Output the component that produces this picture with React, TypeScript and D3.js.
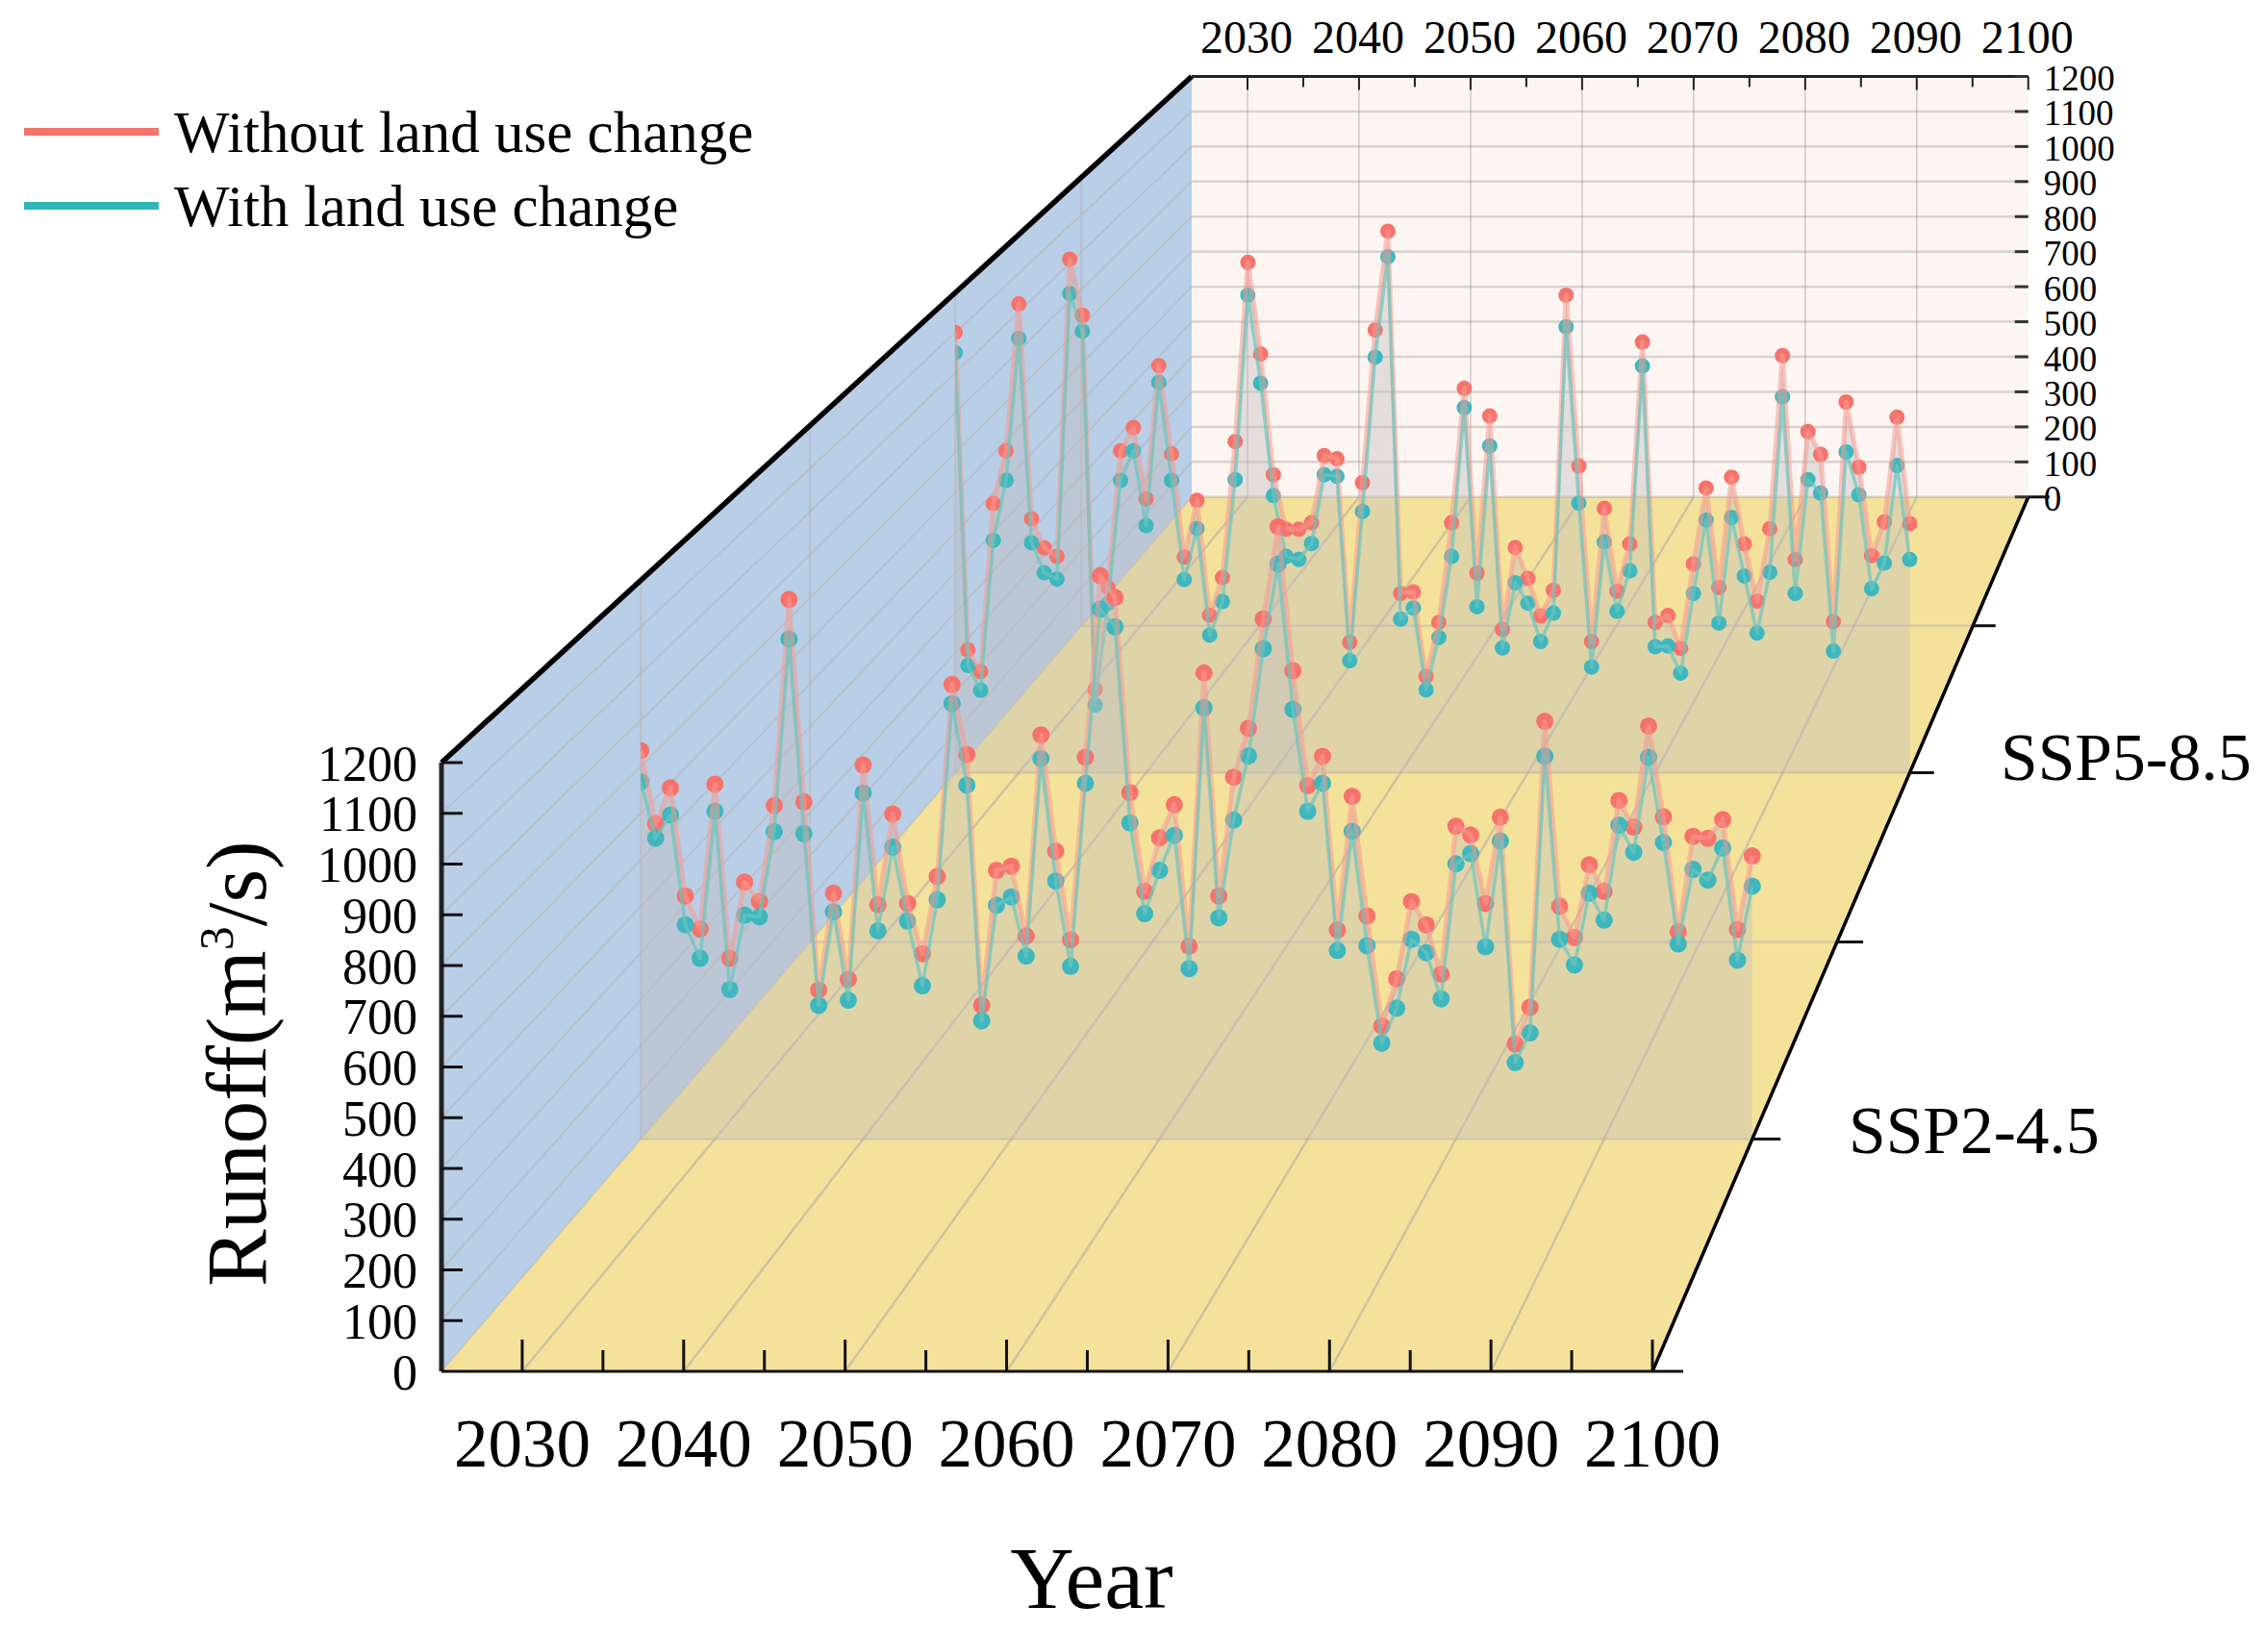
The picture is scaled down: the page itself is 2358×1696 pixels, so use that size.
import React from 'react';
import * as d3 from 'd3';

const years = d3.range(2025, 2101);
const majorYears = [2030, 2040, 2050, 2060, 2070, 2080, 2090, 2100];
const minorYears = [2035, 2045, 2055, 2065, 2075, 2085, 2095];
const runoffTicks = d3.range(0, 1300, 100);

const ssp245Without = [
  834, 677, 754, 522, 451, 762, 388, 552, 510, 716, 1159, 724, 320, 528, 343, 803, 503, 698, 506, 398,
  564, 976, 826, 287, 577, 586, 436, 868, 618, 428, 820, 1210, 1163, 744, 532, 647, 718, 414, 1001, 522,
  777, 882, 1117, 1315, 1006, 759, 822, 449, 736, 479, 243, 344, 510, 460, 354, 672, 653, 506, 691, 204,
  283, 897, 500, 433, 589, 532, 727, 670, 887, 692, 445, 650, 646, 686, 450, 608,
];
const ssp245With = [
  767, 646, 696, 460, 388, 704, 321, 481, 477, 660, 1074, 656, 287, 488, 298, 743, 447, 627, 468, 329,
  514, 935, 760, 254, 502, 520, 393, 817, 554, 371, 764, 1138, 1100, 679, 484, 577, 652, 366, 926, 475,
  685, 823, 1053, 1235, 923, 704, 764, 405, 661, 415, 206, 281, 429, 400, 301, 591, 613, 413, 640, 164,
  228, 822, 429, 374, 528, 470, 674, 616, 820, 637, 419, 579, 556, 625, 384, 543,
];
const ssp585Without = [
  1101, 307, 253, 673, 805, 1172, 635, 562, 541, 1284, 1144, 208, 464, 805, 863, 685, 1018, 797, 539, 681,
  394, 488, 828, 1276, 1047, 745, 609, 609, 625, 793, 785, 326, 725, 1107, 1354, 448, 452, 241, 376, 625,
  961, 499, 892, 358, 563, 486, 392, 456, 1194, 767, 328, 661, 454, 572, 1077, 376, 393, 311, 522, 712,
  463, 739, 572, 429, 610, 1043, 533, 853, 796, 378, 927, 764, 543, 627, 889, 623,
];
const ssp585With = [
  1050, 268, 206, 581, 731, 1086, 575, 500, 484, 1198, 1104, 169, 423, 731, 805, 618, 976, 731, 483, 611,
  344, 428, 733, 1194, 974, 693, 541, 533, 573, 745, 741, 280, 653, 1039, 1290, 384, 412, 207, 338, 541,
  913, 415, 817, 312, 475, 424, 328, 399, 1115, 674, 264, 577, 404, 505, 1017, 315, 317, 249, 448, 632,
  374, 638, 492, 349, 501, 940, 448, 733, 699, 304, 802, 695, 460, 524, 768, 533,
];

// depth slots along the scenario axis, 0 = front edge, 5 = back wall
const depthTicks = [0, 1, 2, 3, 4, 5];
const scenarios = [
  { label: 'SSP5-8.5', depth: 3, without: ssp585Without, withLuc: ssp585With, r: 8, textX: 2080, textY: 811 },
  { label: 'SSP2-4.5', depth: 1, without: ssp245Without, withLuc: ssp245With, r: 9, textX: 1922, textY: 1199 },
];
const legendItems = [
  { label: 'Without land use change', color: '#F4736B', y: 137 },
  { label: 'With land use change', color: '#2FB6B8', y: 214 },
];

const W = 2358;
const H = 1696;
const SERIF = '"Liberation Serif", "Times New Roman", serif';
const RED = '#F6736C';
const TEAL = '#3FB7BF';

const xFront = d3.scaleLinear().domain([2025, 2100]).range([459, 1718]);
const yFront = d3.scaleLinear().domain([0, 1200]).range([1426, 793]);
const depthScale = d3.scaleLinear().domain([0, 5]).range([1, 1.4475]);
const vanishX = 2982;
const vanishY = -1515;

const proj = (year: number, value: number, depth: number): [number, number] => {
  const s = 1 / depthScale(depth);
  return [vanishX + (xFront(year) - vanishX) * s, vanishY + (yFront(value) - vanishY) * s];
};
const polyPath = (pts: [number, number][]) => d3.line()(pts) + 'Z';
const seg = (a: [number, number], b: [number, number]) => d3.line()([a, b]) as string;

export default function App() {
  const wall = polyPath([proj(2025, 0, 0), proj(2025, 1200, 0), proj(2025, 1200, 5), proj(2025, 0, 5)]);
  const floor = polyPath([proj(2025, 0, 0), proj(2100, 0, 0), proj(2100, 0, 5), proj(2025, 0, 5)]);
  const back = polyPath([proj(2025, 0, 5), proj(2025, 1200, 5), proj(2100, 1200, 5), proj(2100, 0, 5)]);

  return (
    <svg width={W} height={H} viewBox={`0 0 ${W} ${H}`} style={{ position: 'absolute', left: 0, top: 0, background: '#fff' }} fontFamily={SERIF}>
      <defs>
        {scenarios.map(sc => {
          const [x0] = proj(2025, 0, sc.depth);
          return (
            <clipPath id={`clip-${sc.depth}`} key={sc.depth}>
              <rect x={x0} y={0} width={W - x0} height={H} />
            </clipPath>
          );
        })}
      </defs>

      <path d={back} fill="#FCF5F1" />
      <path d={wall} fill="#B9CEE7" />
      <path d={floor} fill="#F5E29A" />

      {/* grid: back wall */}
      {runoffTicks.map(v => (
        <path key={v} d={seg(proj(2025, v, 5), proj(2100, v, 5))} stroke="#8f8a88" strokeOpacity={0.32} strokeWidth={2.5} fill="none" />
      ))}
      {majorYears.slice(0, -1).map(y => (
        <path key={y} d={seg(proj(y, 0, 5), proj(y, 1200, 5))} stroke="#8f8a88" strokeOpacity={0.4} strokeWidth={1.5} fill="none" />
      ))}
      {/* grid: left wall */}
      {runoffTicks.map(v => (
        <path key={v} d={seg(proj(2025, v, 0), proj(2025, v, 5))} stroke="#b5b0a8" strokeOpacity={0.45} strokeWidth={2} fill="none" />
      ))}
      {depthTicks.slice(1, -1).map(d => (
        <path key={d} d={seg(proj(2025, 0, d), proj(2025, 1200, d))} stroke="#b5b0a8" strokeOpacity={0.45} strokeWidth={2} fill="none" />
      ))}
      {/* grid: floor */}
      {majorYears.slice(0, -1).map(y => (
        <path key={y} d={seg(proj(y, 0, 0), proj(y, 0, 5))} stroke="#a09cb0" strokeOpacity={0.45} strokeWidth={2.5} fill="none" />
      ))}
      {depthTicks.slice(1, -1).map(d => (
        <path key={d} d={seg(proj(2025, 0, d), proj(2100, 0, d))} stroke="#a09cb0" strokeOpacity={0.35} strokeWidth={2.5} fill="none" />
      ))}

      {/* scenario curtains, back one first; the lines run over the dots */}
      {scenarios.map(sc => {
        const p = (v: number, i: number) => proj(years[i], v, sc.depth);
        const area = d3.area<number>()
          .x((v, i) => p(v, i)[0])
          .y0(() => proj(2025, 0, sc.depth)[1])
          .y1((v, i) => p(v, i)[1]);
        const line = d3.line<number>()
          .x((v, i) => p(v, i)[0])
          .y((v, i) => p(v, i)[1]);
        return (
          <g key={sc.label} clipPath={`url(#clip-${sc.depth})`}>
            <path d={area(sc.without) as string} fill="#BFBEBE" fillOpacity={0.41} stroke="none" />
            {sc.without.map((v, i) => {
              const [cx, cy] = p(v, i);
              return <circle key={i} cx={cx} cy={cy} r={sc.r} fill={RED} />;
            })}
            {sc.withLuc.map((v, i) => {
              const [cx, cy] = p(v, i);
              return <circle key={i} cx={cx} cy={cy} r={sc.r} fill={TEAL} />;
            })}
            <path d={line(sc.without) as string} fill="none" stroke="#F59A92" strokeOpacity={0.55} strokeWidth={5} strokeLinejoin="round" />
            <path d={line(sc.withLuc) as string} fill="none" stroke="#6CC4BC" strokeOpacity={0.7} strokeWidth={3.5} strokeLinejoin="round" />
          </g>
        );
      })}

      {/* axis frame */}
      <path d={seg(proj(2025, 1200, 0), proj(2025, 1200, 5))} stroke="#000" strokeWidth={5.5} fill="none" />
      <path d={seg(proj(2025, 0, 0), proj(2025, 1200, 0))} stroke="#222" strokeWidth={5} fill="none" />
      <path d={seg(proj(2025, 0, 0), proj(2100, 0, 0))} stroke="#111" strokeWidth={3} fill="none" />
      <path d={seg(proj(2100, 0, 0), proj(2100, 0, 5))} stroke="#000" strokeWidth={3.5} fill="none" />
      <path d={seg(proj(2025, 1200, 5), proj(2100, 1200, 5))} stroke="#222" strokeWidth={3} fill="none" />

      {/* front runoff axis */}
      {runoffTicks.map(v => {
        const [x, y] = proj(2025, v, 0);
        return (
          <g key={v}>
            {v > 0 && <line x1={x} x2={x + 22} y1={y} y2={y} stroke="#111" strokeWidth={3} />}
            <text x={434} y={y + 1} dy="0.34em" textAnchor="end" fontSize={52} fill="#000">{v}</text>
          </g>
        );
      })}
      {/* front year axis */}
      {minorYears.map(yr => {
        const [x, y] = proj(yr, 0, 0);
        return <line key={yr} x1={x} x2={x} y1={y} y2={y - 22} stroke="#111" strokeWidth={3} />;
      })}
      {majorYears.map(yr => {
        const [x, y] = proj(yr, 0, 0);
        return (
          <g key={yr}>
            <line x1={x} x2={x} y1={y} y2={y - 33} stroke="#111" strokeWidth={3} />
            <text x={x} y={1525} textAnchor="middle" fontSize={71} fill="#000">{yr}</text>
          </g>
        );
      })}
      {/* back year axis, along the top */}
      {minorYears.map(yr => {
        const [x, y] = proj(yr, 1200, 5);
        return <line key={yr} x1={x} x2={x} y1={y} y2={y + 11} stroke="#222" strokeWidth={2} />;
      })}
      {majorYears.map(yr => {
        const [x, y] = proj(yr, 1200, 5);
        return (
          <g key={yr}>
            <line x1={x} x2={x} y1={y} y2={y + 14} stroke="#222" strokeWidth={2} />
            <text x={x - 1} y={55} textAnchor="middle" fontSize={48} fill="#000">{yr}</text>
          </g>
        );
      })}
      {/* back runoff axis */}
      {runoffTicks.map(v => {
        const [x, y] = proj(2100, v, 5);
        return (
          <g key={v}>
            <line x1={x - 14} x2={x} y1={y} y2={y} stroke="#333" strokeWidth={3} />
            <text x={x + 16} y={y + 2} dy="0.34em" fontSize={37} fill="#000">{v}</text>
          </g>
        );
      })}
      {/* scenario axis ticks */}
      {depthTicks.map(d => {
        const [x, y] = proj(2100, 0, d);
        const len = 32 / depthScale(d);
        return <line key={d} x1={x} x2={x + len} y1={y} y2={y} stroke="#111" strokeWidth={3} />;
      })}
      {scenarios.map(sc => (
        <text key={sc.label} x={sc.textX} y={sc.textY} fontSize={69.5} fill="#000">{sc.label}</text>
      ))}

      {/* titles */}
      <text x={1135} y={1672} textAnchor="middle" fontSize={92} fill="#000">Year</text>
      <text transform="translate(276,1106) rotate(-90)" textAnchor="middle" fontSize={89} fill="#000">
        Runoff(m<tspan dy={-34} fontSize={50}>3</tspan><tspan dy={34}>/s)</tspan>
      </text>

      {/* legend */}
      {legendItems.map(item => (
        <g key={item.label}>
          <line x1={25} x2={165} y1={item.y} y2={item.y} stroke={item.color} strokeWidth={8} />
          <text x={181} y={item.y + 21} fontSize={61} fill="#000">{item.label}</text>
        </g>
      ))}
    </svg>
  );
}
